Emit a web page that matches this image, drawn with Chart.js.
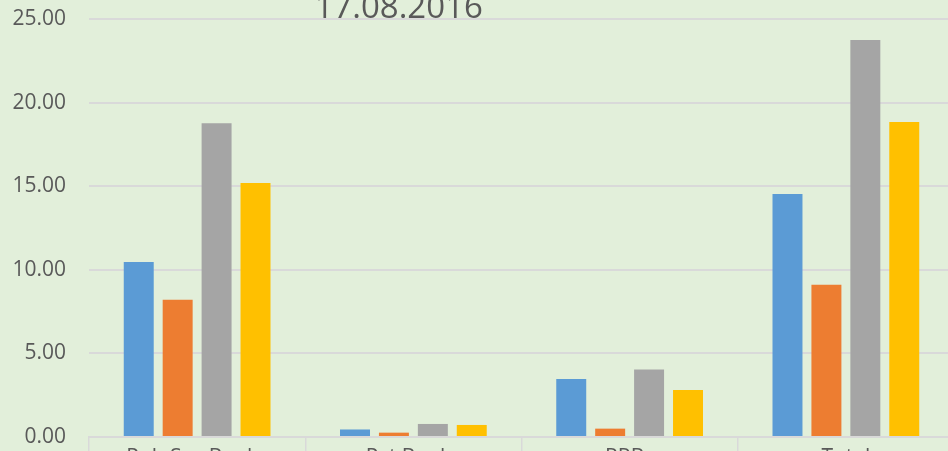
<!DOCTYPE html>
<html>
<head>
<meta charset="utf-8">
<script src="https://cdn.jsdelivr.net/npm/chart.js@4/dist/chart.umd.min.js"></script>
<style>
  html, body { margin: 0; padding: 0; overflow: hidden; background: #e2efda; width: 948px; height: 451px; }
  #wrap { position: absolute; left: 0; top: 0; width: 960px; height: 480px; }
</style>
</head>
<body>
<div id="wrap"><canvas id="c" width="960" height="480"></canvas></div>
<script>
const categories = ["Pub Sec Banks", "Pvt Banks", "RRBs", "Total"];
const seriesNames = ["Series 1", "Series 2", "Series 3", "Series 4"];
const series1 = [10.47, 0.45, 3.47, 14.53];
const series2 = [8.21, 0.26, 0.50, 9.11];
const series3 = [18.76, 0.78, 4.04, 23.74];
const series4 = [15.19, 0.72, 2.81, 18.84];
const yTicks = [0, 5, 10, 15, 20, 25];
const titleText = "17.08.2016";

const colors = ["#5b9bd5", "#ed7d31", "#a5a5a5", "#ffc000"];
const values = [series1, series2, series3, series4];

const titlePlugin = {
  id: 'offTitle',
  afterDraw(chart) {
    const ctx = chart.ctx;
    const a = chart.chartArea;
    ctx.save();
    ctx.font = '33px "Open Sans"';
    ctx.fillStyle = '#595959';
    ctx.textAlign = 'center';
    ctx.textBaseline = 'alphabetic';
    ctx.fillText(titleText, a.left + (a.right - a.left) * 0.358, a.top - 1);
    ctx.restore();
  }
};

new Chart(document.getElementById('c'), {
  type: 'bar',
  data: {
    labels: categories,
    datasets: values.map((v, i) => ({
      label: seriesNames[i],
      data: v,
      backgroundColor: colors[i],
      borderWidth: 0,
      barPercentage: 0.77,
      categoryPercentage: 0.72
    }))
  },
  options: {
    responsive: false,
    animation: false,
    devicePixelRatio: 1,
    layout: { autoPadding: false, padding: { top: 19, right: 6, left: 0, bottom: 0 } },
    plugins: { legend: { display: false }, title: { display: false }, tooltip: { enabled: false } },
    scales: {
      x: {
        afterFit(scale) { scale.height = 43; scale.paddingLeft = 0; scale.paddingRight = 0; },
        grid: { offset: true, drawOnChartArea: false, drawTicks: true, tickLength: 20, color: '#d9d9d9', lineWidth: 1.5 },
        border: { display: true, color: '#d9d9d9', width: 2 },
        ticks: { color: '#595959', font: { family: 'Open Sans', size: 21 }, padding: -12 }
      },
      y: {
        min: 0, max: 25,
        afterFit(scale) { scale.width = 89; scale.paddingTop = 0; scale.paddingBottom = 0; },
        afterBuildTicks(scale) { scale.ticks = yTicks.map(v => ({ value: v })); },
        grid: { drawTicks: false, color: '#d9d9d9', lineWidth: 2 },
        border: { display: false },
        ticks: {
          color: '#595959', font: { family: 'Open Sans', size: 21 }, padding: 23,
          callback: v => Number(v).toFixed(2)
        }
      }
    }
  },
  plugins: [titlePlugin]
});
</script>
</body>
</html>
